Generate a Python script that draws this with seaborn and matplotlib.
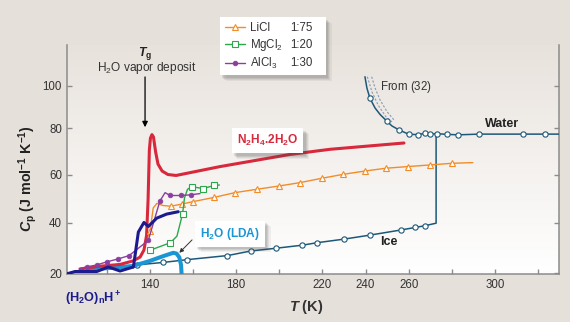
import numpy as np
import matplotlib
matplotlib.use("Agg")
import matplotlib.pyplot as plt
import matplotlib.patheffects as pe
from matplotlib.lines import Line2D
import seaborn as sns

# ---------------- data: heat capacity Cp (J mol^-1 K^-1) vs T (K) ----------------
ice_T = [132.1, 133.8, 146.2, 157.3, 175.9, 186.7, 198.4, 210.6, 217.6, 230.0, 242.1,
         256.3, 262.9, 267.5, 272.7, 272.7]
ice_cp = [22.1, 23.3, 24.3, 25.4, 27.0, 28.8, 29.9, 31.1, 32.1, 33.5, 35.1,
          37.1, 38.1, 38.8, 39.8, 77.5]
ice_marks = list(range(1, 14))

water_T = [239.7, 240.6, 242.0, 244.4, 246.7, 249.8, 252.2, 255.5, 260.1, 264.5, 267.7,
           269.9, 273.0, 277.6, 282.9, 292.7, 312.8, 323.4, 329.7]
water_cp = [104.2, 98.9, 94.1, 89.5, 86.5, 83.4, 81.1, 79.3, 77.4, 77.3, 77.9,
            77.5, 77.7, 77.4, 77.2, 77.5, 77.5, 77.5, 77.5]
water_marks = [2, 5, 7, 8, 9, 10, 11, 12, 13, 14, 15, 16, 17]

# supercooled water data from ref. 32
ref32_a_T = [240.8, 243.0, 245.8, 249.5, 252.2]
ref32_a_cp = [104.2, 97.0, 90.9, 85.3, 83.0]
ref32_b_T = [242.8, 244.4, 246.7, 250.0, 253.2]
ref32_b_cp = [104.2, 98.9, 93.3, 87.7, 83.9]

n2h4_T = [107.5, 116.8, 126.1, 132.1, 135.4, 137.2, 138.4, 139.1, 139.7, 140.2, 140.9,
          141.6, 142.6, 143.7, 145.6, 148.3, 152.1, 172.5, 204.9, 223.5, 257.8]
n2h4_cp = [21.7, 22.8, 23.5, 24.9, 26.4, 29.2, 34.9, 49.5, 70.7, 75.8, 77.3,
           76.3, 69.9, 64.7, 61.7, 60.2, 59.8, 63.6, 68.8, 71.0, 73.7]

cluster_T = [101.5, 105.2, 115.3, 120.7, 126.1, 132.3, 134.6, 137.2, 139.2, 143.1, 147.7, 153.1]
cluster_cp = [19.8, 20.7, 20.7, 22.5, 20.9, 22.5, 36.3, 40.1, 38.5, 41.9, 43.6, 44.6]

lda_T = [111.4, 121.4, 132.1, 140.0, 146.2, 150.8, 152.3, 153.6, 154.4, 154.7]
lda_cp = [21.6, 22.1, 22.9, 24.9, 26.8, 28.1, 27.8, 26.3, 23.3, 18.9]

licl_T = [139.3, 140.0, 141.5, 143.2, 146.0, 149.7, 154.7, 159.8, 169.7, 179.4, 189.5,
          200.0, 209.6, 219.6, 229.7, 239.7, 249.5, 259.5, 269.9, 279.9, 289.7]
licl_cp = [34.7, 36.6, 46.2, 48.1, 47.2, 46.9, 47.8, 48.8, 50.6, 52.6, 54.0,
           55.4, 56.8, 58.6, 60.3, 61.7, 62.9, 63.6, 64.3, 65.0, 65.3]
licl_marks = [1] + list(range(5, 20))

mgcl2_T = [140.0, 149.5, 152.5, 155.1, 156.0, 157.4, 159.3, 164.7, 169.6, 172.2]
mgcl2_cp = [29.1, 32.1, 34.7, 43.7, 50.4, 54.0, 55.1, 54.3, 55.6, 55.8]
mgcl2_marks = [0, 1, 3, 6, 7, 8]

alcl3_T = [107.5, 110.6, 115.3, 119.9, 125.3, 130.3, 139.2, 144.6, 147.0, 149.3, 154.5, 159.0, 163.2]
alcl3_cp = [21.9, 22.5, 23.3, 24.5, 25.7, 27.0, 33.0, 49.1, 52.6, 51.4, 51.4, 51.7, 52.2]
alcl3_marks = [1, 2, 3, 4, 5, 6, 7, 9, 10, 11]

salt_names = ["LiCl", "MgCl$_2$", "AlCl$_3$"]
salt_ratios = ["1:75", "1:20", "1:30"]

x_ticks = [120, 140, 160, 180, 200, 220, 240, 260, 280, 300, 320]
x_ticklabels = ["", "140", "", "180", "", "220", "240", "260", "", "300", ""]
y_ticks = [20, 40, 60, 80, 100]

# ---------------- style ----------------
sns.set_style("ticks")
plt.rcParams["font.family"] = ["Liberation Sans", "DejaVu Sans"]
plt.rcParams["mathtext.fontset"] = "custom"
plt.rcParams["mathtext.rm"] = "Liberation Sans"
plt.rcParams["mathtext.it"] = "Liberation Sans:italic"
plt.rcParams["mathtext.bf"] = "Liberation Sans:bold"
plt.rcParams["mathtext.bfit"] = "Liberation Sans:italic:bold"
plt.rcParams["mathtext.default"] = "regular"

C_ICE = "#1d5878"
C_RED = "#d8283c"
C_NAVY = "#1b1b8f"
C_LDA = "#1a96d4"
C_ORANGE = "#f28c28"
C_GREEN = "#2aa84a"
C_PURPLE = "#8a3f9e"
C_SPINE = "#8c8c8c"
C_TEXT = "#333333"
BG = "#e6e0da"

W, H = 570, 322
fig = plt.figure(figsize=(W / 100, H / 100), dpi=100, facecolor=BG)
rect = [67 / W, 1 - 274.3 / H, 492 / W, 229.3 / H]

# panel with a soft vertical gradient
bg_ax = fig.add_axes(rect, zorder=0)
g = np.linspace(0, 1, 256)[:, None, None]
top = np.array([232, 226, 220]) / 255.0
grad = top * (1 - g) + np.ones(3) * g
bg_ax.imshow(grad, aspect="auto", extent=[0, 1, 0, 1], origin="upper")
bg_ax.set_axis_off()

ax = fig.add_axes(rect, zorder=1)
ax.set_facecolor("none")

# the printed Cp axis has slightly uneven tick spacing
cp_ref = np.array([0.0, 20, 40, 60, 80, 100, 140])
cp_pos = np.array([-50.6, 0.0, 50.6, 98.3, 145.0, 187.6, 272.8])
ax.set_yscale("function", functions=(lambda v: np.interp(v, cp_ref, cp_pos),
                                     lambda p: np.interp(p, cp_pos, cp_ref)))


def line(x, y, color, lw, z, **kw):
    sns.lineplot(x=x, y=y, ax=ax, color=color, lw=lw, sort=False, estimator=None,
                 zorder=z, legend=False, **kw)


# ice and liquid water
line(ice_T, ice_cp, C_ICE, 1.1, 3, marker="o", markersize=3.8, markerfacecolor="white",
     markeredgecolor=C_ICE, markeredgewidth=0.8, markevery=ice_marks)
line(water_T, water_cp, C_ICE, 1.1, 3, marker="o", markersize=3.8, markerfacecolor="white",
     markeredgecolor=C_ICE, markeredgewidth=0.8, markevery=water_marks)
line(ref32_a_T, ref32_a_cp, "#8a9bb0", 0.8, 2.5, linestyle=(0, (2, 1.5)))
line(ref32_b_T, ref32_b_cp, "#8a9bb0", 0.8, 2.5, linestyle=(0, (2, 1.5)))

# LDA, hydrazine hydrate and protonated clusters
line(lda_T, lda_cp, C_LDA, 2.9, 3.5)
line(n2h4_T, n2h4_cp, C_RED, 2.2, 3.6)

# salt solutions
line(licl_T, licl_cp, C_ORANGE, 1.0, 4, marker="^", markersize=4.6, markerfacecolor="white",
     markeredgecolor=C_ORANGE, markeredgewidth=0.8, markevery=licl_marks)
line(mgcl2_T, mgcl2_cp, C_GREEN, 1.0, 4, marker="s", markersize=4.2, markerfacecolor="white",
     markeredgecolor=C_GREEN, markeredgewidth=0.8, markevery=mgcl2_marks)
line(alcl3_T, alcl3_cp, C_PURPLE, 1.0, 4, marker="o", markersize=3.4, markerfacecolor=C_PURPLE,
     markeredgecolor=C_PURPLE, markeredgewidth=0.5, markevery=alcl3_marks)
line(cluster_T, cluster_cp, C_NAVY, 2.2, 5)

ax.set_xlim(101.5, 329.7)
ax.set_ylim(19.6, 119.1)
ax.set_xticks(x_ticks)
ax.set_xticklabels(x_ticklabels)
ax.set_yticks(y_ticks)
ax.set_yticklabels([str(v) for v in y_ticks])
ax.yaxis.set_minor_locator(matplotlib.ticker.NullLocator())
ax.xaxis.set_minor_locator(matplotlib.ticker.NullLocator())

for side in ["left", "bottom", "right"]:
    ax.spines[side].set_color(C_SPINE)
    ax.spines[side].set_linewidth(1.1)
ax.spines["top"].set_visible(False)
ax.tick_params(direction="in", length=3.8, width=1.0, color=C_SPINE, labelsize=8.3,
               labelcolor=C_TEXT, right=True, top=False, pad=3.6)

ax.set_xlabel(r"$\mathbfit{T}$ (K)", fontsize=10.5, fontweight="bold", color=C_TEXT)
ax.xaxis.set_label_coords(0.486, -0.1426)
ax.xaxis.label.set_va("center")
ax.set_ylabel(r"$\mathbfit{C}_{p}$ (J mol$^{-1}$ K$^{-1}$)", fontsize=10.3,
              fontweight="bold", color="#222222")
ax.yaxis.set_label_coords(-0.0803, 0.4156)
ax.yaxis.label.set_va("center")


def soft_shadow():
    fx = []
    for off, a in [((4.0, -4.0), 0.07), ((3.2, -3.2), 0.09), ((2.4, -2.4), 0.11), ((1.6, -1.6), 0.12)]:
        fx.append(pe.SimplePatchShadow(offset=off, shadow_rgbFace="#4a4a4a", alpha=a))
    fx.append(pe.Normal())
    return fx


# in-plot labels
ax.text(303.3, 82.0, "Water", fontsize=9, fontweight="bold", color="#222222",
        ha="center", va="center", zorder=6)
ax.text(250.9, 32.4, "Ice", fontsize=9, fontweight="bold", color="#222222",
        ha="center", va="center", zorder=6)
ax.text(246.7, 99.2, r"From ($\mathit{32}$)", fontsize=8.3, color=C_TEXT,
        ha="left", va="center", zorder=6)

t1 = ax.text(194.5, 74.6, "N$_2$H$_4$.2H$_2$O", fontsize=8.6, fontweight="bold", color=C_RED,
             ha="center", va="center", zorder=7,
             bbox=dict(boxstyle="square,pad=0.42", fc="white", ec="none"))
t1.get_bbox_patch().set_path_effects(soft_shadow())

ax.annotate("", xy=(153.6, 28.1), xytext=(159.5, 33.2), zorder=6,
            arrowprops=dict(arrowstyle="-|>", color="#333333", lw=0.7, mutation_scale=6,
                            shrinkA=0, shrinkB=0))
t2 = ax.text(177.1, 35.7, "H$_2$O (LDA)", fontsize=8.6, fontweight="bold", color=C_LDA,
             ha="center", va="center", zorder=7,
             bbox=dict(boxstyle="square,pad=0.42", fc="white", ec="none"))
t2.get_bbox_patch().set_path_effects(soft_shadow())

# glass transition marker
ax.text(137.7, 115.2, r"$\mathbfit{T}_{g}$", fontsize=8.8, fontweight="bold", color="#222222",
        ha="center", va="center", clip_on=False)
ax.text(138.5, 108.2, "H$_2$O vapor deposit", fontsize=8.6, color=C_TEXT,
        ha="center", va="center", clip_on=False)
ax.annotate("", xy=(137.7, 80.5), xytext=(137.7, 104.1), annotation_clip=False,
            arrowprops=dict(arrowstyle="-|>", color="black", lw=0.9, mutation_scale=8,
                            shrinkA=0, shrinkB=0))

fig.text(93 / W, 1 - 299 / H, "(H$_2$O)$_n$H$^+$", fontsize=9.2, fontweight="bold",
         color=C_NAVY, ha="center", va="center")

# legend for the salt solutions
handles = [
    Line2D([], [], color=C_ORANGE, lw=1.0, marker="^", ms=4.6, mfc="white", mec=C_ORANGE, mew=0.8),
    Line2D([], [], color=C_GREEN, lw=1.0, marker="s", ms=4.2, mfc="white", mec=C_GREEN, mew=0.8),
    Line2D([], [], color=C_PURPLE, lw=1.0, marker="o", ms=3.4, mfc=C_PURPLE, mec=C_PURPLE, mew=0.5),
]
leg = fig.legend(handles, salt_names, loc="upper left",
                 bbox_to_anchor=(220 / W, 1 - 17.3 / H, 106 / W, 0), mode="expand",
                 fontsize=8.3, handlelength=1.75, handletextpad=0.45, borderpad=0.4,
                 labelspacing=0.25, borderaxespad=0, fancybox=False, frameon=True)
leg.set_zorder(8)
leg.get_frame().set_facecolor("white")
leg.get_frame().set_edgecolor("none")
leg.get_frame().set_alpha(1)
leg.get_frame().set_path_effects(soft_shadow())
for txt in leg.get_texts():
    txt.set_color(C_TEXT)

fig.canvas.draw()
inv = fig.transFigure.inverted()
fx0 = leg.get_frame().get_window_extent().x0
for txt, ratio in zip(leg.get_texts(), salt_ratios):
    bb = txt.get_window_extent()
    xf, yf = inv.transform((fx0 + 70, (bb.y0 + bb.y1) / 2))
    fig.text(xf, yf, ratio, fontsize=8.3, color=C_TEXT, ha="left", va="center", zorder=9)

fig.savefig("out.png", dpi=100, facecolor=BG)
